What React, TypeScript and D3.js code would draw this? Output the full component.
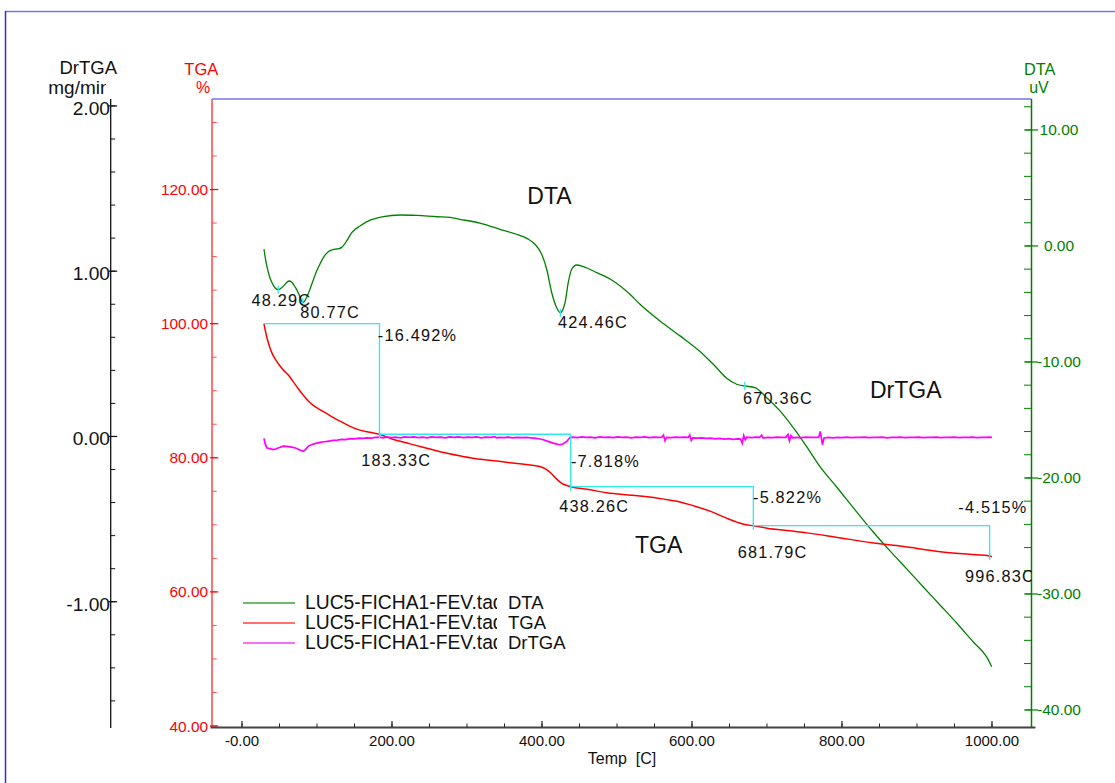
import React from "react";
import * as d3 from "d3";

// ---------- thermal analysis data (temperature in C) ----------
// DTA signal, uV
const dtaPoints: [number, number][] = [
  [29.3, -0.28], [31, -1.0], [33, -1.7], [37, -2.7], [41, -3.3], [44, -3.6],
  [48.29, -3.77], [52, -3.65], [56, -3.4], [60, -3.12], [63, -3.02], [66, -3.1],
  [69, -3.35], [72, -3.65], [75, -4.03], [78, -4.5], [80.77, -4.85], [83, -4.8],
  [86, -4.45], [90, -3.85], [93, -3.3], [99.6, -2.16], [104, -1.55], [108.4, -1.01],
  [113, -0.62], [117.3, -0.4], [122, -0.3], [127, -0.26], [133, -0.12], [139.6, 0.43],
  [146.3, 1.15], [157.3, 1.72], [170.7, 2.22], [188.4, 2.53], [210.7, 2.67], [233, 2.63],
  [259.6, 2.52], [277.3, 2.46], [290.7, 2.3], [317.3, 1.96], [344, 1.44], [366, 1.01],
  [380.4, 0.63], [390.7, 0.15], [399.6, -0.72], [406.3, -2.01], [413, -4.03], [419.6, -5.32],
  [424.46, -5.75], [428, -5.45], [430.7, -4.89], [435, -3.16], [439.6, -2.01], [446.3, -1.64],
  [455, -1.78], [473, -2.3], [495, -3.02], [517.3, -4.17], [530.7, -5.03], [557.3, -6.47],
  [584, -7.75], [610.7, -9.1], [628.4, -10.2], [646.3, -11.4], [659.6, -11.92], [670.36, -12.07],
  [684, -12.21], [699.6, -13.08], [717.3, -14.22], [735, -15.66], [752.9, -17.3], [770.7, -19.03],
  [792.9, -20.78], [819.6, -22.93], [841.7, -24.66], [864, -26.29], [886.3, -27.84], [908.4, -29.4],
  [930.7, -30.95], [952.9, -32.5], [975.1, -34.14], [992.9, -35.43], [999.6, -36.27],
];

// TGA mass, %
const tgaPoints: [number, number][] = [
  [29.3, 100.0], [31, 99.0], [35, 97.2], [40, 95.6], [45, 94.6], [50, 93.8], [55, 93.1],
  [62, 92.3], [68, 91.4], [75, 90.3], [82, 89.3], [88, 88.5], [95, 87.8], [102, 87.3],
  [110, 86.8], [120, 86.1], [130, 85.5], [142, 84.8], [155, 84.2], [170, 83.8], [183.33, 83.5],
  [200, 82.8], [220, 82.2], [240, 81.6], [264, 80.9], [290, 80.3], [310, 79.9], [340, 79.5],
  [370, 79.1], [397, 78.7], [405, 78.3], [412, 77.7], [418, 77.0], [425, 76.3], [432, 75.9],
  [438.26, 75.69], [460, 75.3], [486, 74.8], [520, 74.4], [553, 74.0], [580, 73.5], [606, 72.7],
  [625, 72.0], [646, 71.0], [660, 70.4], [672, 70.0], [681.79, 69.87], [700, 69.5], [730, 69.1],
  [753, 68.8], [790, 68.2], [842, 67.3], [880, 66.8], [931, 66.0], [970, 65.6], [996.83, 65.35],
  [1000, 65.25],
];

// DrTGA, mg/min
const drtgaPoints: [number, number][] = [
  [29.3, -0.012], [31, -0.045], [33, -0.068], [37, -0.074], [41.7, -0.079], [45, -0.076],
  [49, -0.068], [55, -0.059], [60, -0.06], [66.3, -0.065], [70, -0.068], [73, -0.073],
  [77, -0.082], [81.7, -0.09], [85, -0.078], [88.4, -0.059], [92, -0.052], [95, -0.046],
  [99.6, -0.04], [104, -0.036], [110, -0.032], [116, -0.028], [121.7, -0.024], [127, -0.022],
  [133, -0.018], [138, -0.019], [144, -0.013], [150, -0.014], [156, -0.01], [161, -0.012],
  [166.3, -0.009], [172, -0.01], [178, -0.006], [183, -0.004], [188.4, -0.008], [193, -0.003],
  [199, -0.007], [205, -0.004], [211, -0.008], [217, -0.003], [223, -0.006], [229, -0.002],
  [235, -0.007], [241, -0.004], [247, -0.008], [253, -0.003], [259, -0.006], [265, -0.004],
  [271, -0.008], [277, -0.003], [283, -0.006], [289, -0.002], [295, -0.007], [301, -0.004],
  [307, -0.006], [313, -0.003], [319, -0.008], [325, -0.004], [331, -0.006], [337, -0.001],
  [339, -0.008], [343, -0.005], [349, -0.007], [355, -0.004], [361, -0.008], [367, -0.005],
  [373, -0.007], [379, -0.006], [385, -0.008], [390, -0.01], [396, -0.014], [401.7, -0.02],
  [408, -0.03], [415, -0.04], [420, -0.046], [424, -0.05], [428, -0.046], [433, -0.03],
  [437.3, -0.006], [441, -0.004], [447, -0.007], [453, -0.003], [459, -0.006], [465, -0.004],
  [471, -0.008], [477, -0.003], [483, -0.006], [489, -0.004], [495, -0.007], [501, -0.003],
  [507, -0.006], [513, -0.004], [519, -0.008], [525, -0.004], [531, -0.006], [537, -0.003],
  [543, -0.007], [549, -0.004], [555, -0.006], [560, -0.004], [562, 0.008], [564, -0.026],
  [566, -0.005], [572, -0.007], [578, -0.004], [584, -0.006], [590, -0.004], [595, -0.006],
  [597, 0.008], [599, -0.024], [601, -0.008], [607, -0.01], [613, -0.008], [619, -0.012],
  [625, -0.01], [631, -0.014], [637, -0.012], [643, -0.016], [649, -0.013], [655, -0.017],
  [661, -0.014], [665, -0.016], [667, -0.04], [669, 0.006], [671, -0.02], [673, -0.004],
  [679, -0.007], [685, -0.004], [690, -0.006], [693, 0.008], [695, -0.01], [701, -0.005],
  [707, -0.007], [713, -0.004], [719, -0.006], [725, -0.005], [728, 0.012], [730, -0.026],
  [732, 0.006], [734, -0.008], [740, -0.005], [746, -0.007], [752, -0.004], [758, -0.006],
  [764, -0.005], [769, -0.006], [771, 0.03], [774, -0.05], [776, -0.009], [782, -0.006],
  [788, -0.008], [794, -0.005], [800, -0.007], [806, -0.004], [812, -0.007], [818, -0.005],
  [824, -0.006], [830, -0.004], [836, -0.007], [842, -0.005], [848, -0.006], [854, -0.004],
  [860, -0.008], [866, -0.005], [872, -0.006], [878, -0.004], [884, -0.007], [890, -0.005],
  [896, -0.006], [902, -0.004], [908, -0.007], [914, -0.005], [920, -0.006], [926, -0.004],
  [932, -0.007], [938, -0.005], [944, -0.006], [950, -0.004], [956, -0.007], [962, -0.005],
  [968, -0.006], [974, -0.004], [980, -0.007], [986, -0.005], [992, -0.006], [996, -0.004],
  [1000, -0.006],
];

// DTA peak temperatures
const dtaPeakTemps = [48.29, 80.77, 424.46, 670.36];
const dtaPeakLabels = ["48.29C", "80.77C", "424.46C", "670.36C"];

// TGA step analysis
const stepStartTemp = 29.3;
const stepStartMass = 100.0;
const stepTemps = [183.33, 438.26, 681.79, 996.83];
const stepTempLabels = ["183.33C", "438.26C", "681.79C", "996.83C"];
const stepLosses = [16.492, 7.818, 5.822, 4.515];
const stepLossLabels = ["-16.492%", "-7.818%", "-5.822%", "-4.515%"];

// axis ticks
const xTicks = [0, 200, 400, 600, 800, 1000];
const xTickLabels = ["-0.00", "200.00", "400.00", "600.00", "800.00", "1000.00"];
const tgaTicks = [40, 60, 80, 100, 120];
const tgaTickLabels = ["40.00", "60.00", "80.00", "100.00", "120.00"];
const dtaTicks = [10, 0, -10, -20, -30, -40];
const dtaTickLabels = ["10.00", "0.00", "-10.00", "-20.00", "-30.00", "-40.00"];
const drTicks = [2, 1, 0, -1];
const drTickLabels = ["2.00", "1.00", "0.00", "-1.00"];

const legendFile = "LUC5-FICHA1-FEV.tad";
const legendSeries = ["DTA", "TGA", "DrTGA"];

// ---------- layout ----------
const W = 1115;
const H = 783;
const L = 212;
const R = 1031.5;
const T = 99;
const B = 727;
const DR_AXIS_X = 110.7;
const FONT = "'Liberation Sans', Arial, sans-serif";

const GREEN = "#008000";
const RED = "#ff0000";
const MAGENTA = "#ff00ff";
const CYAN = "#30e8f0";
const BLUE = "#7474ee";

export default function App() {
  const x = d3.scaleLinear().domain([-40, 1052.7]).range([L, R]);
  const yTga = d3.scaleLinear().domain([40, 133.5]).range([726, T]);
  const yDta = d3.scaleLinear().domain([-41.47, 12.67]).range([B, T]);
  const yDr = d3.scaleLinear().domain([-1.758, 2.042]).range([B, T]);

  const dtaLine = d3.line<[number, number]>().x((d) => x(d[0])).y((d) => yDta(d[1])).curve(d3.curveMonotoneX);
  const tgaLine = d3.line<[number, number]>().x((d) => x(d[0])).y((d) => yTga(d[1])).curve(d3.curveMonotoneX);
  const drLine = d3.line<[number, number]>().x((d) => x(d[0])).y((d) => yDr(d[1]));

  // cumulative step levels
  const levels: number[] = [];
  let m = stepStartMass;
  stepLosses.forEach((l) => {
    m -= l;
    levels.push(m);
  });
  const stepPts: [number, number][] = [[x(stepStartTemp), yTga(stepStartMass)]];
  let prev = stepStartMass;
  stepTemps.forEach((t, i) => {
    stepPts.push([x(t), yTga(prev)]);
    stepPts.push([x(t), yTga(levels[i])]);
    prev = levels[i];
  });
  const stepPath = d3.line()(stepPts) || "";

  const peakY = (t: number) => {
    const p = dtaPoints.find((d) => d[0] === t);
    return yDta(p ? p[1] : 0);
  };

  // label offsets relative to their anchors
  const peakOffsets: [number, number][] = [[-26.6, 16.3], [-2.3, 16], [-2.4, 15.6], [-1.7, 18.3]];
  const stepTempOffsets: [number, number][] = [[-18.3, 32], [-11.5, 25.3], [-15.7, 32.5], [-24.6, 25.7]];
  const stepLossOffsets: [number, number][] = [[-1.7, 17], [0.2, 32.3], [-0.3, 16], [-31.3, -12.7]];

  const annoStyle = { fontFamily: FONT, fontSize: 16.3, letterSpacing: 1.2, fill: "#111" };

  const xMinor = d3.range(0, 1001, 50);
  const tgaMinor = d3.range(40, 131, 5);
  const dtaMinor = d3.range(-40, 13, 2);
  const drMinor = d3.range(-16, 21, 2).map((v) => v / 10);

  return (
    <svg width={W} height={H} style={{ position: "absolute", left: 0, top: 0, background: "#fff" }}>
      <defs>
        <clipPath id="plotClip">
          <rect x={L} y={T} width={R - L} height={B - T} />
        </clipPath>
        <clipPath id="unitClip">
          <rect x={0} y={70} width={106} height={40} />
        </clipPath>
        <clipPath id="fileClip">
          <rect x={300} y={580} width={197} height={80} />
        </clipPath>
      </defs>

      {/* outer frame */}
      <line x1={5} y1={11.5} x2={W} y2={11.5} stroke={BLUE} strokeWidth={1.5} />
      <line x1={5.5} y1={11} x2={5.5} y2={H} stroke="#2f2fe0" strokeWidth={1.5} />

      {/* plot top border */}
      <line x1={L} y1={T} x2={R} y2={T} stroke={BLUE} strokeWidth={1.5} />

      {/* DrTGA axis (far left) */}
      <line x1={DR_AXIS_X} y1={T} x2={DR_AXIS_X} y2={728} stroke="#111" strokeWidth={1.3} />
      {drMinor.map((v) => (
        <line key={"drm" + v} x1={DR_AXIS_X} x2={DR_AXIS_X + 4.5} y1={yDr(v)} y2={yDr(v)} stroke="#111" strokeWidth={1} />
      ))}
      {drTicks.map((v, i) => (
        <g key={"dr" + v}>
          <line x1={DR_AXIS_X - 2.5} x2={DR_AXIS_X + 6.5} y1={yDr(v)} y2={yDr(v)} stroke="#111" strokeWidth={1.2} />
          <text x={110} y={yDr(v) + 9} textAnchor="end" style={{ fontFamily: FONT, fontSize: 19.2, fill: "#111" }}>
            {drTickLabels[i]}
          </text>
        </g>
      ))}
      <text x={117} y={74} textAnchor="end" style={{ fontFamily: FONT, fontSize: 18.5, fill: "#111" }}>DrTGA</text>
      <text x={48.3} y={94.3} clipPath="url(#unitClip)" style={{ fontFamily: FONT, fontSize: 19, fill: "#111" }}>mg/min</text>

      {/* TGA axis (left, red) */}
      <line x1={L} y1={T} x2={L} y2={B} stroke="#ff5050" strokeWidth={1.6} />
      {tgaMinor.map((v) => (
        <line key={"tm" + v} x1={L} x2={L + 4.7} y1={yTga(v)} y2={yTga(v)} stroke="#ff5050" strokeWidth={1} />
      ))}
      {tgaTicks.map((v, i) => (
        <g key={"t" + v}>
          <line x1={L - 2} x2={L + 6.3} y1={yTga(v)} y2={yTga(v)} stroke={RED} strokeWidth={1.2} />
          <text x={208} y={yTga(v) + 5.5} textAnchor="end" style={{ fontFamily: FONT, fontSize: 15.4, fill: RED }}>
            {tgaTickLabels[i]}
          </text>
        </g>
      ))}
      <text x={201.3} y={75} textAnchor="middle" style={{ fontFamily: FONT, fontSize: 16.5, fill: RED }}>TGA</text>
      <text x={203} y={93} textAnchor="middle" style={{ fontFamily: FONT, fontSize: 16, fill: RED }}>%</text>

      {/* DTA axis (right, green) */}
      <line x1={R} y1={T} x2={R} y2={B} stroke={GREEN} strokeWidth={1.5} />
      {dtaMinor.map((v) => (
        <line key={"dm" + v} x1={R - 7.5} x2={R} y1={yDta(v)} y2={yDta(v)} stroke={GREEN} strokeWidth={1} />
      ))}
      {dtaTicks.map((v, i) => (
        <g key={"d" + v}>
          <line x1={R - 6} x2={R + 6.5} y1={yDta(v)} y2={yDta(v)} stroke={GREEN} strokeWidth={1.2} />
          <text x={1059} y={yDta(v) + 5} textAnchor="middle" style={{ fontFamily: FONT, fontSize: 15.5, fill: GREEN }}>
            {dtaTickLabels[i]}
          </text>
        </g>
      ))}
      <text x={1039.7} y={75} textAnchor="middle" style={{ fontFamily: FONT, fontSize: 16.3, fill: GREEN }}>DTA</text>
      <text x={1039} y={93.3} textAnchor="middle" style={{ fontFamily: FONT, fontSize: 16, fill: GREEN }}>uV</text>

      {/* temperature axis */}
      <line x1={210.5} y1={B + 0.5} x2={1035.5} y2={B + 0.5} stroke="#444" strokeWidth={2} />
      {xMinor.map((v) => (
        <line key={"xm" + v} x1={x(v)} x2={x(v)} y1={B - 3.5} y2={B} stroke="#222" strokeWidth={1} />
      ))}
      {xTicks.map((v, i) => (
        <g key={"x" + v}>
          <line x1={x(v)} x2={x(v)} y1={B - 6} y2={B} stroke="#222" strokeWidth={1.2} />
          <text x={x(v)} y={746} textAnchor="middle" style={{ fontFamily: FONT, fontSize: 15, fill: "#111" }}>
            {xTickLabels[i]}
          </text>
        </g>
      ))}
      <text x={622} y={764} textAnchor="middle" style={{ fontFamily: FONT, fontSize: 16, fill: "#111" }}>{"Temp\u00a0 [C]"}</text>

      {/* curves */}
      <g clipPath="url(#plotClip)">
        <path d={dtaLine(dtaPoints) || ""} fill="none" stroke={GREEN} strokeWidth={1.3} />
        <path d={tgaLine(tgaPoints) || ""} fill="none" stroke={RED} strokeWidth={1.5} />
        <path d={drLine(drtgaPoints) || ""} fill="none" stroke={MAGENTA} strokeWidth={1.7} />

        {/* step analysis */}
        <path d={stepPath} fill="none" stroke={CYAN} strokeWidth={1.3} />
        {stepTemps.map((t, i) => (
          <line key={"sm" + t} x1={x(t)} x2={x(t)} y1={yTga(levels[i]) - 3} y2={yTga(levels[i]) + 4} stroke={CYAN} strokeWidth={1.3} />
        ))}
        {dtaPeakTemps.map((t) => (
          <line key={"pm" + t} x1={x(t)} x2={x(t)} y1={peakY(t) - 4} y2={peakY(t) + 4} stroke={CYAN} strokeWidth={1.3} />
        ))}

        {/* annotations */}
        {dtaPeakTemps.map((t, i) => (
          <text key={"pl" + t} x={x(t) + peakOffsets[i][0]} y={peakY(t) + peakOffsets[i][1]} style={annoStyle}>
            {dtaPeakLabels[i]}
          </text>
        ))}
        {stepTemps.map((t, i) => (
          <text key={"st" + t} x={x(t) + stepTempOffsets[i][0]} y={yTga(levels[i]) + stepTempOffsets[i][1]} style={annoStyle}>
            {stepTempLabels[i]}
          </text>
        ))}
        {stepTemps.map((t, i) => (
          <text
            key={"sl" + t}
            x={x(t) + stepLossOffsets[i][0]}
            y={(i === 3 ? yTga(levels[i - 1]) : yTga(i === 0 ? stepStartMass : levels[i - 1])) + stepLossOffsets[i][1]}
            style={annoStyle}
          >
            {stepLossLabels[i]}
          </text>
        ))}

        {/* curve names */}
        <text x={527.3} y={204} style={{ fontFamily: FONT, fontSize: 23, fill: "#111" }}>DTA</text>
        <text x={870} y={398.3} style={{ fontFamily: FONT, fontSize: 23, fill: "#111" }}>DrTGA</text>
        <text x={635} y={553.3} style={{ fontFamily: FONT, fontSize: 23, fill: "#111" }}>TGA</text>
      </g>

      {/* legend */}
      {legendSeries.map((s, i) => {
        const ly = 603 + i * 20;
        const col = ["#3fa33f", "#ff4040", "#f040f0"][i];
        return (
          <g key={"lg" + s}>
            <line x1={243} x2={295} y1={ly} y2={ly} stroke={col} strokeWidth={1.3} />
            <text x={305} y={ly + 6} clipPath="url(#fileClip)" style={{ fontFamily: FONT, fontSize: 19.3, fill: "#111" }}>
              {legendFile}
            </text>
            <text x={508} y={ly + 6} style={{ fontFamily: FONT, fontSize: 18.5, fill: "#111" }}>{s}</text>
          </g>
        );
      })}
    </svg>
  );
}
